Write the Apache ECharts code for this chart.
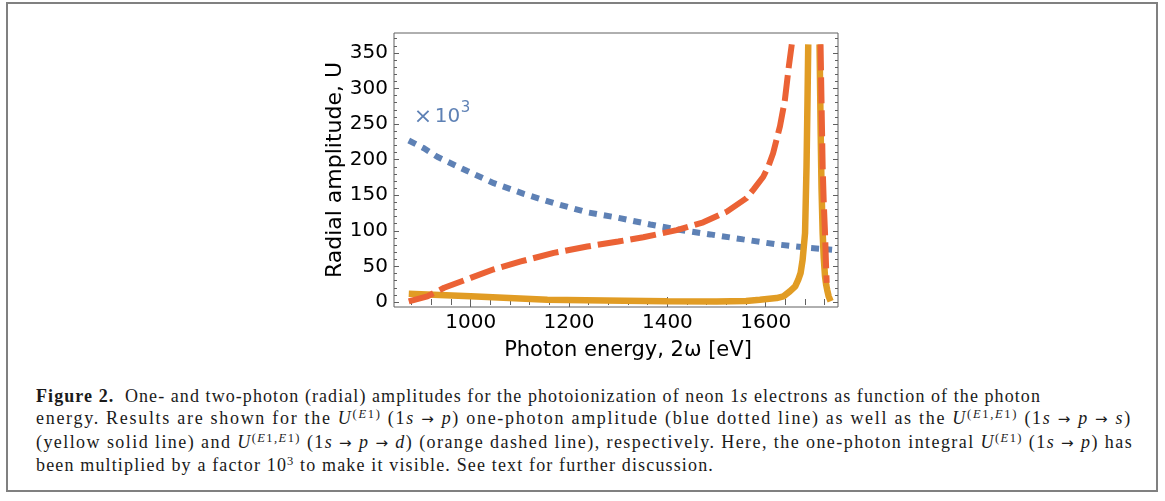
<!DOCTYPE html>
<html lang="en">
<head>
<meta charset="UTF-8">
<title>Figure 2</title>
<script src="https://cdn.jsdelivr.net/npm/echarts@6/dist/echarts.min.js"></script>
<style>
    body { margin: 0; background: #fff; }
    #chart { position: absolute; left: 0; top: 0; width: 1165px; height: 380px; }
    #box { position: absolute; left: 6px; top: 2px; width: 1152px; height: 490px; border: 2px solid #808080; box-sizing: border-box; pointer-events: none; }
    #caption { position: absolute; left: 36px; top: 385px; font-family: "Liberation Serif", serif; font-size: 18px; line-height: 22.4px; color: #1a1a1a; }
    #caption div { white-space: nowrap; width: max-content; }
    #caption b { margin-right: 5px; }
    #caption sup { font-size: 12.5px; vertical-align: 6px; line-height: 0; }
    #caption .ar { font-family: "DejaVu Sans", sans-serif; font-size: 15px; }
</style>
</head>
<body>
<div id="chart"></div>
<div id="caption">
    <div><b>Figure 2.</b> One- and two-photon (radial) amplitudes for the photoionization of neon 1<i>s</i> electrons as function of the photon</div>
    <div>energy. Results are shown for the <i>U</i><sup>(<i>E</i>1)</sup> (1<i>s</i> <span class="ar">→</span> <i>p</i>) one-photon amplitude (blue dotted line) as well as the <i>U</i><sup>(<i>E</i>1,<i>E</i>1)</sup> (1<i>s</i> <span class="ar">→</span> <i>p</i> <span class="ar">→</span> <i>s</i>)</div>
    <div>(yellow solid line) and <i>U</i><sup>(<i>E</i>1,<i>E</i>1)</sup> (1<i>s</i> <span class="ar">→</span> <i>p</i> <span class="ar">→</span> <i>d</i>) (orange dashed line), respectively. Here, the one-photon integral <i>U</i><sup>(<i>E</i>1)</sup> (1<i>s</i> <span class="ar">→</span> <i>p</i>) has</div>
    <div>been multiplied by a factor 10<sup>3</sup> to make it visible. See text for further discussion.</div>
</div>
<div id="box"></div>
<script type="text/javascript">

    // one-photon amplitude U(E1) (1s -> p), times 10^3 (blue dotted)
    const onePhotonEnergy = [874, 905, 932, 993, 1047, 1108, 1169, 1237, 1295, 1365, 1419, 1487, 1554, 1622, 1690, 1735];
    const onePhotonAmp = [227, 216, 204, 184, 167, 152, 139, 126, 119, 109, 102, 95, 88, 81, 76, 73.5];

    // two-photon U(E1,E1) (1s -> p -> s), yellow solid, two branches around the resonance
    const sLeftEnergy = [874, 1000, 1156, 1312, 1400, 1500, 1560, 1588, 1622, 1636, 1649, 1660, 1666, 1671, 1675, 1680, 1683, 1685, 1686.5];
    const sLeftAmp = [11.7, 8, 3.3, 1.9, 1, 0.8, 1.5, 3.3, 5.6, 8, 15, 22, 31, 41, 59, 97, 191, 284, 362];
    const sRightEnergy = [1709.5, 1711.8, 1713.5, 1715.8, 1718, 1720.6, 1723, 1725, 1728, 1732];
    const sRightAmp = [362, 237, 160, 97, 62, 36, 24, 17, 8, 1];

    // two-photon U(E1,E1) (1s -> p -> d), orange dashed
    const dLeftEnergy = [874, 912, 946, 1000, 1047, 1102, 1169, 1237, 1300, 1351, 1419, 1473, 1521, 1561, 1575, 1595, 1605, 1615, 1629, 1639, 1647, 1653];
    const dLeftAmp = [1, 8, 20, 34, 46, 57, 69, 78, 85, 91, 101, 112, 127, 146, 158, 176, 190, 209, 247, 284, 331, 362];
    const dRightEnergy = [1711.5, 1714, 1715.8, 1718, 1720.6, 1722.5, 1724];
    const dRightAmp = [362, 260, 190, 140, 97, 55, 27];

    const xMajorTicks = [1000, 1200, 1400, 1600];
    const yMajorTicks = [0, 50, 100, 150, 200, 250, 300, 350];

    const X_MIN = 844, X_MAX = 1747, Y_MIN = -7, Y_MAX = 378;
    const FONT = 'DejaVu Sans';
    const FRAME = '#606060';
    const BLUE = '#5E81B5';

    function minorTicks(from, to, step, majors) {
        let out = [];
        for (let v = from; v <= to; v += step) {
            if (majors.indexOf(v) < 0) out.push(v);
        }
        return out;
    }
    const xMinorTicks = minorTicks(880, 1720, 40, xMajorTicks);
    const yMinorTicks = minorTicks(0, 370, 10, yMajorTicks);

    function zip(xs, ys) {
        return xs.map((x, i) => [x, ys[i]]);
    }

    function tickAxis(pos, ticks, len, withLabels, extra) {
        let axis = {
            type: 'value',
            position: pos,
            axisLine: {show: false},
            splitLine: {show: false},
            axisTick: {
                show: true,
                inside: true,
                length: len,
                customValues: ticks,
                lineStyle: {color: FRAME, width: 1}
            },
            axisLabel: {show: false}
        };
        if (withLabels) {
            axis.axisLabel = {
                show: true,
                customValues: ticks,
                color: '#000',
                fontFamily: FONT,
                fontSize: 20,
                margin: 6,
                formatter: v => String(v)
            };
        }
        return Object.assign(axis, extra);
    }

    const xr = {min: X_MIN, max: X_MAX};
    const yr = {min: Y_MIN, max: Y_MAX};

    let chart = echarts.init(document.getElementById('chart'));
    let option = {
        animation: false,
        grid: {
            left: 394, top: 33, width: 444, height: 274,
            show: true, borderColor: FRAME, borderWidth: 1
        },
        xAxis: [
            tickAxis('bottom', xMajorTicks, 5, true, Object.assign({
                name: 'Photon energy, 2ω [eV]',
                nameLocation: 'middle',
                nameGap: 33,
                nameTextStyle: {fontFamily: FONT, fontSize: 21, color: '#000', padding: [0, 0, 0, 24]}
            }, xr)),
            tickAxis('bottom', xMinorTicks, 3, false, xr),
            tickAxis('top', xMajorTicks, 5, false, xr),
            tickAxis('top', xMinorTicks, 3, false, xr)
        ],
        yAxis: [
            tickAxis('left', yMajorTicks, 5, true, Object.assign({
                name: 'Radial amplitude, U',
                nameLocation: 'middle',
                nameGap: 46,
                nameTextStyle: {fontFamily: FONT, fontSize: 22, color: '#000'}
            }, yr)),
            tickAxis('left', yMinorTicks, 3, false, yr),
            tickAxis('right', yMajorTicks, 5, false, yr),
            tickAxis('right', yMinorTicks, 3, false, yr)
        ],
        series: [
            {
                name: 'U(E1) x 10^3',
                type: 'line',
                symbol: 'none',
                data: zip(onePhotonEnergy, onePhotonAmp),
                lineStyle: {color: BLUE, width: 6, type: [8, 7], cap: 'butt'},
                z: 2
            },
            {
                name: 'U(E1,E1) s',
                type: 'line',
                symbol: 'none',
                data: zip(sLeftEnergy, sLeftAmp),
                lineStyle: {color: '#E19C24', width: 6.5},
                z: 3
            },
            {
                name: 'U(E1,E1) s right',
                type: 'line',
                symbol: 'none',
                data: zip(sRightEnergy, sRightAmp),
                lineStyle: {color: '#E19C24', width: 6.5},
                z: 3
            },
            {
                name: 'U(E1,E1) d',
                type: 'line',
                symbol: 'none',
                data: zip(dLeftEnergy, dLeftAmp),
                lineStyle: {color: '#EB6235', width: 6, type: [26, 7], cap: 'butt'},
                z: 4
            },
            {
                name: 'U(E1,E1) d right',
                type: 'line',
                symbol: 'none',
                data: zip(dRightEnergy, dRightAmp),
                lineStyle: {color: '#EB6235', width: 6, type: [26, 7], cap: 'butt'},
                z: 4
            }
        ]
    };
    chart.setOption(option);

    // "x 10^3" note next to the blue curve
    let p = chart.convertToPixel({xAxisIndex: 0, yAxisIndex: 0}, [884, 260]);
    chart.setOption({
        graphic: [
            {
                type: 'text', x: p[0], y: p[1], z: 10,
                style: {text: '×', fill: BLUE, font: '22px "DejaVu Sans"', verticalAlign: 'middle', align: 'left'}
            },
            {
                type: 'text', x: p[0] + 21, y: p[1], z: 10,
                style: {text: '10', fill: BLUE, font: '20px "DejaVu Sans"', verticalAlign: 'middle', align: 'left'}
            },
            {
                type: 'text', x: p[0] + 47, y: p[1] - 9, z: 10,
                style: {text: '3', fill: BLUE, font: '15px "DejaVu Sans"', verticalAlign: 'middle', align: 'left'}
            }
        ]
    });

    // stretch each caption line to the width of the original typesetting
    const captionWidths = [1005, 1096, 1097, 678];
    document.querySelectorAll('#caption div').forEach(function (el, i) {
        let w = el.getBoundingClientRect().width;
        let n = el.textContent.length;
        el.style.letterSpacing = ((captionWidths[i] - w) / n) + 'px';
    });
</script>
</body>
</html>
